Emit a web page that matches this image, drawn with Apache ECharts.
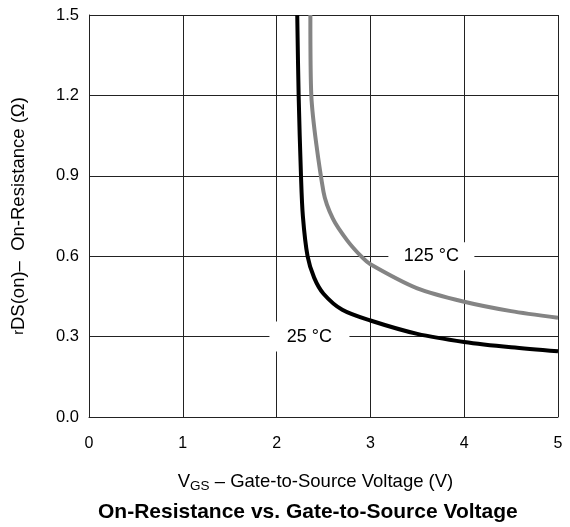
<!DOCTYPE html>
<html>
<head>
<meta charset="utf-8">
<script src="https://cdn.jsdelivr.net/npm/echarts@6/dist/echarts.min.js"></script>
<style>
html,body{margin:0;padding:0;background:#fff;}
#main{width:570px;height:527px;}
</style>
</head>
<body>
<div id="main"></div>
<script>
// VGS (V) and rDS(on) (ohm)
var vgs25 = [2.22, 2.235, 2.26, 2.28, 2.33, 2.4, 2.5, 2.7, 3.0, 3.5, 4.0, 4.5, 5.0];
var r25 = [1.5, 1.2, 0.9, 0.75, 0.6, 0.52, 0.46, 0.40, 0.36, 0.31, 0.28, 0.26, 0.245];
var vgs125 = [2.36, 2.37, 2.5, 2.6, 2.75, 2.9, 3.0, 3.5, 4.0, 4.5, 5.0];
var r125 = [1.5, 1.2, 0.84, 0.74, 0.66, 0.6, 0.57, 0.48, 0.43, 0.395, 0.37];
var xTicks = [0, 1, 2, 3, 4, 5];
var yTicks = [0, 0.3, 0.6, 0.9, 1.2, 1.5];

function pairs(xs, ys) {
	var out = [];
	for (var i = 0; i < xs.length; i++) {
		out.push([xs[i], ys[i]]);
	}
	return out;
}

var font = 'Liberation Sans, Arial, sans-serif';
var myChart = echarts.init(document.getElementById('main'));
var option = {
	backgroundColor: '#fff',
	animation: false,
	textStyle: { fontFamily: font },
	title: {
		text: 'On-Resistance vs. Gate-to-Source Voltage',
		left: 93,
		top: 497,
		textStyle: { fontSize: 21, fontWeight: 'bold', color: '#000', fontFamily: font }
	},
	grid: { left: 89, right: 12, top: 15, bottom: 110 },
	xAxis: {
		type: 'value',
		min: xTicks[0],
		max: xTicks[xTicks.length - 1],
		interval: 1,
		name: '{v|V}{s|GS}{n| – Gate-to-Source Voltage (V)}',
		nameLocation: 'middle',
		nameGap: 53,
		nameTextStyle: {
			padding: [0, 16, 0, 0],
			rich: {
				v: { fontSize: 18.5, color: '#000', fontFamily: font },
				s: { fontSize: 13.5, color: '#000', fontFamily: font, verticalAlign: 'bottom', padding: [9, 0, 0, 0] },
				n: { fontSize: 18.5, color: '#000', fontFamily: font }
			}
		},
		axisLine: { lineStyle: { color: '#222', width: 1 } },
		axisTick: { show: false },
		axisLabel: { fontSize: 16, color: '#000', margin: 19 },
		splitLine: { show: true, lineStyle: { color: '#222', width: 1 } }
	},
	yAxis: {
		type: 'value',
		min: yTicks[0],
		max: yTicks[yTicks.length - 1],
		interval: 0.3,
		name: '{r|r}{n|DS(on)–  On-Resistance (Ω)}',
		nameLocation: 'middle',
		nameGap: 61,
		nameTextStyle: {
			rich: {
				r: { fontSize: 14.5, color: '#000', fontFamily: font },
				n: { fontSize: 18.5, color: '#000', fontFamily: font }
			}
		},
		axisLine: { show: true, lineStyle: { color: '#222', width: 1 } },
		axisTick: { show: false },
		axisLabel: {
			fontSize: 16.5, color: '#000', margin: 10,
			formatter: function (v) { return v.toFixed(1); }
		},
		splitLine: { show: true, lineStyle: { color: '#222', width: 1 } }
	},
	series: [{
		name: '125 °C',
		type: 'line',
		smooth: 0.25,
		symbol: 'none',
		data: pairs(vgs125, r125),
		lineStyle: { color: '#848484', width: 4 },
		markPoint: {
			symbol: 'rect',
			symbolSize: [86, 28],
			itemStyle: { color: '#fff' },
			label: { show: true, color: '#000', fontSize: 18, fontFamily: font, formatter: '{b}' },
			data: [{ name: '125 °C', coord: [3.65, 0.6] }]
		}
	}, {
		name: '25 °C',
		type: 'line',
		smooth: 0.3,
		symbol: 'none',
		data: pairs(vgs25, r25),
		lineStyle: { color: '#000', width: 4 },
		markPoint: {
			symbol: 'rect',
			symbolSize: [80, 30],
			itemStyle: { color: '#fff' },
			label: { show: true, color: '#000', fontSize: 18, fontFamily: font, formatter: '{b}' },
			data: [{ name: '25 °C', coord: [2.35, 0.3] }]
		}
	}]
};
myChart.setOption(option, true);
</script>
</body>
</html>
